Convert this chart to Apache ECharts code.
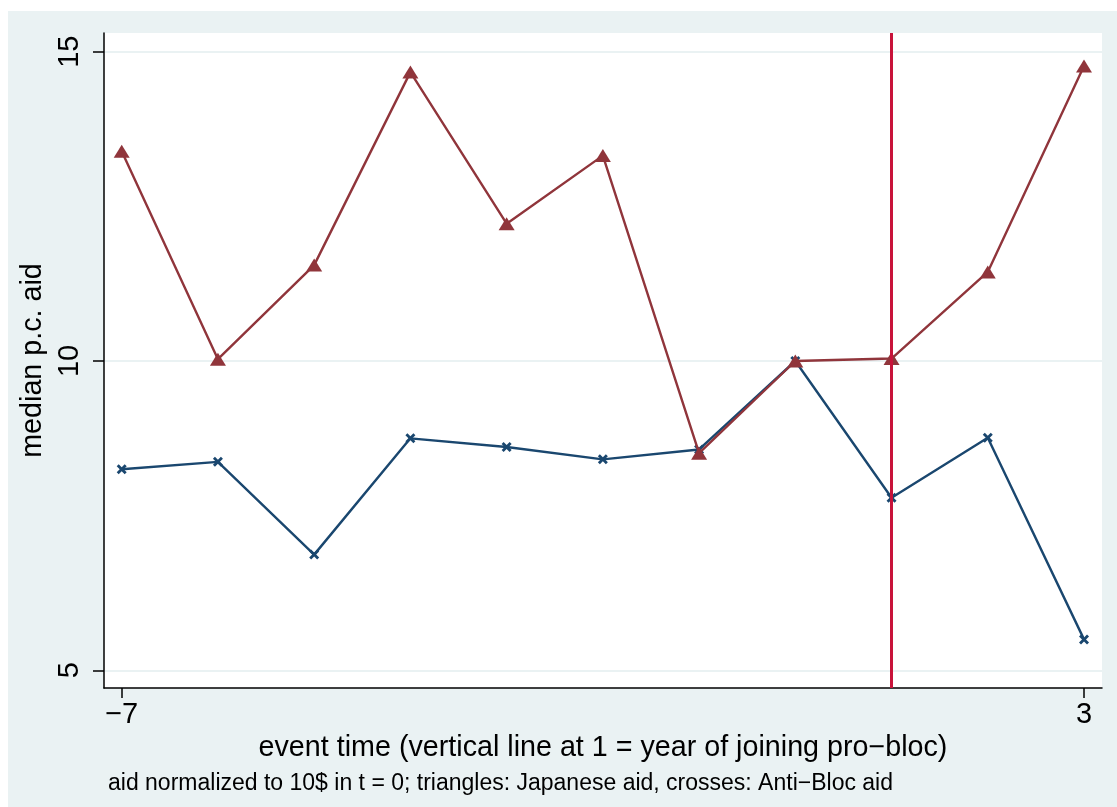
<!DOCTYPE html>
<html>
<head>
<meta charset="utf-8">
<script src="https://cdn.jsdelivr.net/npm/echarts@6/dist/echarts.min.js"></script>
<style>
html,body{margin:0;padding:0;background:#fff;}
#chart{width:1117px;height:807px;}
</style>
</head>
<body>
<div id="chart"></div>
<script>
// ---- data ----
const eventTime = [-7, -6, -5, -4, -3, -2, -1, 0, 1, 2, 3];
const japaneseAid = [13.39, 10.03, 11.55, 14.67, 12.22, 13.32, 8.51, 10.0, 10.04, 11.44, 14.77];
const antiBlocAid = [8.25, 8.37, 6.87, 8.75, 8.61, 8.41, 8.57, 10.0, 7.79, 8.76, 5.50];
const xTickValues = [-7, 3];
const yTickValues = [5, 10, 15];
const joinYear = [1];
const xTitle = 'event time (vertical line at 1 = year of joining pro\u2212bloc)';
const yTitle = 'median p.c. aid';
const noteText = 'aid normalized to 10$ in t = 0; triangles: Japanese aid, crosses: Anti\u2212Bloc aid';

const FONT = "'Liberation Sans', Arial, Helvetica, sans-serif";
const NAVY = '#1A476F';
const MAROON = '#90353B';
const RED = '#C8133A';
const BG = '#EAF2F3';
const crossPath = 'path://M0,2L2,0L5,3L8,0L10,2L7,5L10,8L8,10L5,7L2,10L0,8L3,5Z';

const pair = (xs, ys) => xs.map((x, i) => [x, ys[i]]);
const fmt = v => String(v).replace('-', '\u2212');

const chart = echarts.init(document.getElementById('chart'), null, {renderer: 'canvas'});
chart.setOption({
  animation: false,
  backgroundColor: '#fff',
  textStyle: {fontFamily: FONT},
  graphic: [
    {type: 'rect', z: -10, silent: true, shape: {x: 8, y: 11, width: 1109, height: 796}, style: {fill: BG}},
    {type: 'text', z: 10, left: 108, top: 772, style: {text: noteText, fontSize: 23, fontFamily: FONT, fill: '#000'}}
  ],
  grid: {left: 104, right: 15, top: 33, bottom: 119, show: true, backgroundColor: '#fff', borderWidth: 0, containLabel: false},
  xAxis: {
    type: 'value', min: -7.184, max: 3.187,
    axisLine: {show: true, onZero: false, lineStyle: {color: '#000', width: 1.5}},
    axisTick: {show: true, length: 10, customValues: xTickValues, lineStyle: {color: '#000', width: 1.5}},
    axisLabel: {show: true, customValues: xTickValues, formatter: fmt, fontSize: 29, color: '#000', margin: 12, fontFamily: FONT},
    splitLine: {show: false},
    name: xTitle, nameLocation: 'middle', nameGap: 44,
    nameTextStyle: {fontSize: 28.7, color: '#000', fontFamily: FONT}
  },
  yAxis: {
    type: 'value', min: 4.714, max: 15.302,
    axisLine: {show: true, onZero: false, lineStyle: {color: '#000', width: 1.5}},
    axisTick: {show: true, length: 11, customValues: yTickValues, lineStyle: {color: '#000', width: 1.5}},
    axisLabel: {show: true, customValues: yTickValues, formatter: fmt, rotate: 90, fontSize: 29, color: '#000', margin: 20, fontFamily: FONT},
    splitLine: {show: true, lineStyle: {color: BG, width: 2}},
    name: yTitle, nameLocation: 'middle', nameGap: 50,
    nameTextStyle: {fontSize: 28.7, color: '#000', fontFamily: FONT}
  },
  series: [
    {
      type: 'line', z: 1, data: [], silent: true,
      markLine: {
        silent: true, symbol: 'none', label: {show: false},
        lineStyle: {color: RED, width: 3, type: 'solid'},
        data: joinYear.map(v => ({xAxis: v}))
      }
    },
    {
      name: 'Anti-Bloc aid', type: 'line', z: 2,
      data: pair(eventTime, antiBlocAid),
      symbol: crossPath, symbolSize: 10,
      lineStyle: {color: NAVY, width: 2.4},
      itemStyle: {color: NAVY, borderWidth: 0}
    },
    {
      name: 'Japanese aid', type: 'line', z: 3,
      data: pair(eventTime, japaneseAid),
      symbol: 'triangle', symbolSize: [16, 13],
      lineStyle: {color: MAROON, width: 2.4},
      itemStyle: {color: MAROON, borderWidth: 0}
    }
  ]
});
</script>
</body>
</html>
